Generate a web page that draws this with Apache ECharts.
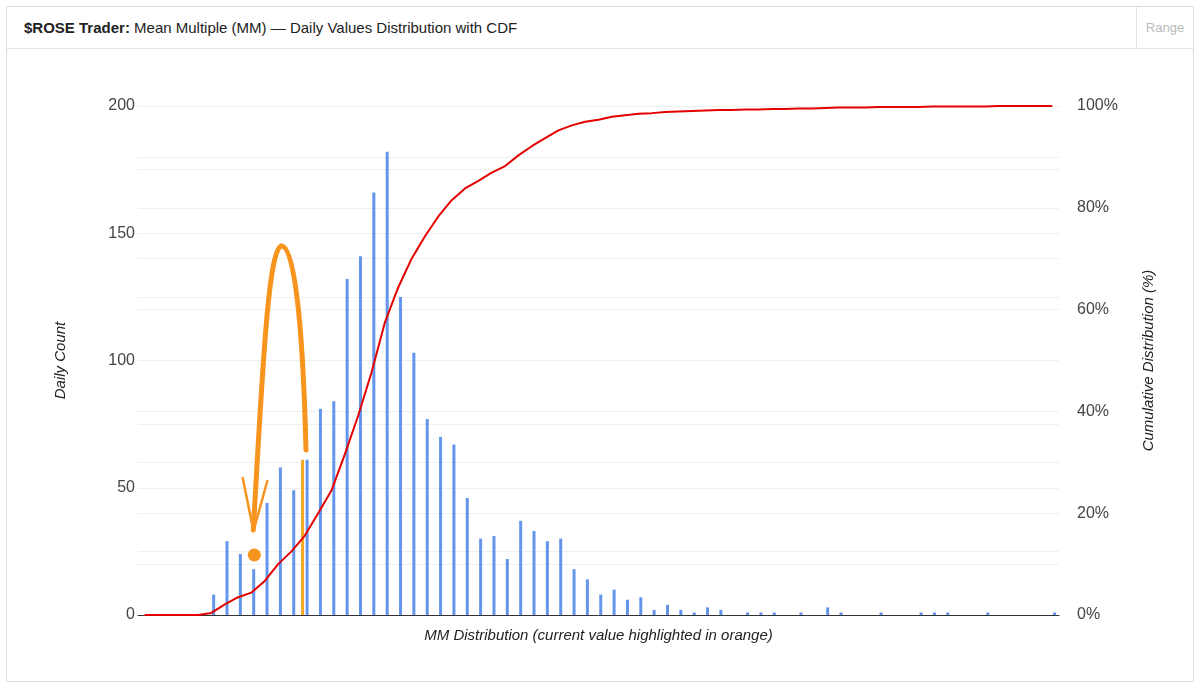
<!DOCTYPE html>
<html>
<head>
<meta charset="utf-8">
<script src="https://cdn.jsdelivr.net/npm/echarts@6/dist/echarts.min.js"></script>
<style>
body { margin: 0; background: #fff; font-family: "Liberation Sans", Arial, sans-serif; }
#card {
  position: absolute; left: 6px; top: 6px; width: 1188px; height: 676px;
  border: 1px solid #dcdcdc; box-sizing: border-box; border-radius: 2px;
}
#head {
  height: 41px; border-bottom: 1px solid #e3e3e3; line-height: 41px;
  padding-left: 17px; font-size: 15px; color: #222;
}
#head b { font-weight: bold; }
#range {
  position: absolute; right: 0; top: 0; width: 56px; height: 41px;
  border-left: 1px solid #e3e3e3; color: #bbb; font-size: 13px;
  line-height: 41px; text-align: center;
}
#chart { position: absolute; left: 7px; top: 49px; width: 1186px; height: 632px; }
</style>
</head>
<body>
<div id="card">
  <div id="head"><b>$ROSE Trader:</b> Mean Multiple (MM) — Daily Values Distribution with CDF</div>
  <div id="range">Range</div>
</div>
<div id="chart"></div>
<script>
// daily counts per MM bin (69 bins, first five empty)
const counts = [
  0, 0, 0, 0, 0,
  8, 29, 24, 18, 44, 58, 49, 61, 81, 84,
  132, 141, 166, 182, 125, 103, 77, 70, 67, 46,
  30, 31, 22, 37, 33, 29, 30, 18, 14, 8,
  10, 6, 7, 2, 4, 2, 1, 3, 2, 0,
  1, 1, 1, 0, 1, 0, 3, 1, 0, 0,
  1, 0, 0, 1, 1, 1, 0, 0, 1, 0,
  0, 0, 0, 1
];
// cumulative distribution (%)
const cdf = [
  0, 0, 0, 0, 0,
  0.4, 2.1, 3.5, 4.4, 6.7, 10.0, 12.5, 15.6, 20.0, 24.5,
  31.6, 39.2, 47.7, 57.5, 64.4, 70.0, 74.4, 78.3, 81.5, 83.8,
  85.3, 86.9, 88.2, 90.3, 92.1, 93.7, 95.2, 96.2, 96.9, 97.3,
  97.9, 98.2, 98.5, 98.6, 98.8, 98.9, 99.0, 99.1, 99.2, 99.2,
  99.3, 99.3, 99.4, 99.4, 99.5, 99.5, 99.6, 99.7, 99.7, 99.7,
  99.8, 99.8, 99.8, 99.8, 99.9, 99.9, 99.9, 99.9, 99.9, 100,
  100, 100, 100, 100
];
const bins = counts.map((v, i) => 'bin ' + (i + 1));
const currentBin = 12;
const countTicks = [0, 50, 100, 150, 200];
const pctTicks = [0, 20, 40, 60, 80, 100];

const current = counts.map((v, i) => (i === currentBin ? v : null));

const chart = echarts.init(document.getElementById('chart'));
const orange = '#f7941d';

chart.setOption({
  animation: false,
  textStyle: { fontFamily: 'Liberation Sans, Arial, sans-serif' },
  grid: { left: 131, right: 134, top: 57, bottom: 66 },
  xAxis: {
    type: 'category',
    data: bins,
    boundaryGap: true,
    axisLine: { lineStyle: { color: '#333', width: 1 } },
    axisTick: { show: false },
    axisLabel: { show: false },
    splitLine: { show: false },
    name: 'MM Distribution (current value highlighted in orange)',
    nameLocation: 'middle',
    nameGap: 13,
    nameTextStyle: { fontStyle: 'italic', fontSize: 15, color: '#222' }
  },
  yAxis: [
    {
      type: 'value', min: 0, max: 200, interval: 25,
      axisLine: { show: false }, axisTick: { show: false },
      axisLabel: {
        fontSize: 16, color: '#444', margin: 3,
        formatter: v => (countTicks.includes(v) ? String(v) : '')
      },
      splitLine: { lineStyle: { color: '#efefef' } },
      name: 'Daily Count', nameLocation: 'middle', nameRotate: 90, nameGap: 70,
      nameTextStyle: { fontStyle: 'italic', fontSize: 15, color: '#222' }
    },
    {
      type: 'value', min: 0, max: 100, interval: 10, position: 'right',
      axisLine: { show: false }, axisTick: { show: false },
      axisLabel: {
        fontSize: 16, color: '#444', margin: 18,
        formatter: v => (pctTicks.includes(v) ? v + '%' : '')
      },
      splitLine: { show: true, lineStyle: { color: '#efefef' } },
      name: 'Cumulative Distribution (%)', nameLocation: 'middle', nameRotate: 90, nameGap: 82,
      nameTextStyle: { fontStyle: 'italic', fontSize: 15, color: '#222' }
    }
  ],
  series: [
    {
      name: 'Current', type: 'bar', data: current, barWidth: 3, barGap: '50%',
      itemStyle: { color: '#f5a623' }, z: 3
    },
    {
      name: 'Daily Count', type: 'bar', data: counts, barWidth: 3,
      itemStyle: { color: '#6495ed' }, z: 2
    },
    {
      name: 'CDF', type: 'line', yAxisIndex: 1, data: cdf, symbol: 'none',
      lineStyle: { color: '#e50000', width: 2 }, itemStyle: { color: '#e50000' }, z: 5
    }
  ],
  // hand-drawn orange arrow annotation
  graphic: [
    {
      type: 'bezierCurve', z: 100,
      shape: { x1: 299, y1: 401, cpx1: 296, cpy1: 281, cpx2: 288, cpy2: 197, x2: 274.7, y2: 197 },
      style: { stroke: orange, lineWidth: 5, fill: null, lineCap: 'round' }
    },
    {
      type: 'bezierCurve', z: 100,
      shape: { x1: 274.7, y1: 197, cpx1: 261, cpy1: 197, cpx2: 255, cpy2: 331, x2: 246.3, y2: 481 },
      style: { stroke: orange, lineWidth: 5, fill: null, lineCap: 'round' }
    },
    {
      type: 'polyline', z: 100,
      shape: { points: [[235.7, 429], [246.5, 482], [260.3, 432]] },
      style: { stroke: orange, lineWidth: 2.5, fill: null, lineCap: 'round', lineJoin: 'round' }
    },
    {
      type: 'circle', z: 100,
      shape: { cx: 247.3, cy: 506, r: 6.5 },
      style: { fill: orange }
    }
  ]
});
</script>
</body>
</html>
